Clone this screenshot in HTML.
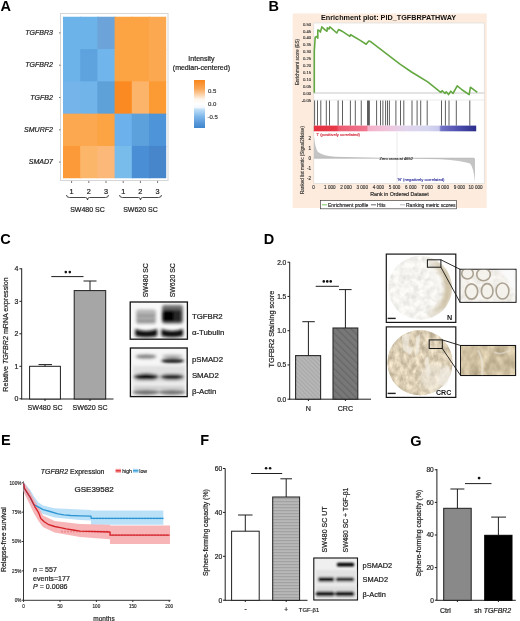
<!DOCTYPE html>
<html><head><meta charset="utf-8"><style>
html,body{margin:0;padding:0;background:#fff;width:520px;height:621px;overflow:hidden}
svg{display:block;font-family:"Liberation Sans", sans-serif;filter:blur(0.35px);}
</style></head><body>
<svg width="520" height="621" viewBox="0 0 520 621">
<defs>
<linearGradient id="cbar" x1="0" y1="0" x2="0" y2="1">
 <stop offset="0" stop-color="#f8861a"/>
 <stop offset="0.18" stop-color="#faa656"/>
 <stop offset="0.32" stop-color="#fcd8b4"/>
 <stop offset="0.4" stop-color="#fff6ee"/>
 <stop offset="0.5" stop-color="#ffffff"/>
 <stop offset="0.575" stop-color="#f2f8fe"/>
 <stop offset="0.61" stop-color="#c2e0f8"/>
 <stop offset="0.76" stop-color="#7eb8ea"/>
 <stop offset="0.9" stop-color="#5796d8"/>
 <stop offset="1" stop-color="#3f86cc"/>
</linearGradient>
<linearGradient id="gsbar" x1="0" y1="0" x2="1" y2="0">
 <stop offset="0" stop-color="#e62e3e"/>
 <stop offset="0.14" stop-color="#e83a4a"/>
 <stop offset="0.155" stop-color="#ec5c70"/>
 <stop offset="0.325" stop-color="#f07690"/>
 <stop offset="0.335" stop-color="#f4b0c8"/>
 <stop offset="0.45" stop-color="#f0c4dc"/>
 <stop offset="0.56" stop-color="#e2d4ec"/>
 <stop offset="0.7" stop-color="#d6d6f0"/>
 <stop offset="0.772" stop-color="#c8c8ec"/>
 <stop offset="0.782" stop-color="#7474c8"/>
 <stop offset="0.88" stop-color="#5252b2"/>
 <stop offset="1" stop-color="#2c2c8a"/>
</linearGradient>
<pattern id="hatchN" width="3" height="3" patternUnits="userSpaceOnUse" patternTransform="rotate(-45)">
 <rect width="3" height="3" fill="#b6b6b6"/>
 <rect width="1" height="3" fill="#a8a8a8"/>
</pattern>
<pattern id="hatchC" width="5" height="5" patternUnits="userSpaceOnUse" patternTransform="rotate(-45)">
 <rect width="5" height="5" fill="#787878"/>
 <rect width="1.2" height="5" fill="#666"/>
</pattern>
<pattern id="hlines" width="4" height="3" patternUnits="userSpaceOnUse">
 <rect width="4" height="3" fill="#b8b8b8"/>
 <rect width="4" height="1.2" fill="#a2a2a2"/>
</pattern>
<filter id="bl1" x="-50%" y="-50%" width="200%" height="200%"><feGaussianBlur stdDeviation="1.2"/></filter>
<filter id="bl15" x="-50%" y="-50%" width="200%" height="200%"><feGaussianBlur stdDeviation="1.6"/></filter>
<filter id="bl2" x="-50%" y="-50%" width="200%" height="200%"><feGaussianBlur stdDeviation="2"/></filter>
<filter id="bl05" x="-50%" y="-50%" width="200%" height="200%"><feGaussianBlur stdDeviation="0.6"/></filter>
<clipPath id="cN"><circle cx="420.25" cy="287.9" r="31.9"/></clipPath>
<clipPath id="cC"><circle cx="420" cy="362.7" r="32.5"/></clipPath>
<linearGradient id="gR" x1="0" y1="0" x2="1" y2="0"><stop offset="0" stop-color="#000"/><stop offset="0.55" stop-color="#000"/><stop offset="0.85" stop-color="#fff"/><stop offset="1" stop-color="#fff"/></linearGradient>
<mask id="mR" maskUnits="userSpaceOnUse" x="386" y="254" width="70" height="70"><rect x="386" y="254" width="70" height="70" fill="url(#gR)"/></mask>
<clipPath id="zN"><rect x="460.5" y="269.8" width="55" height="32"/></clipPath>
<filter id="texN" x="0" y="0" width="100%" height="100%" color-interpolation-filters="sRGB"><feTurbulence type="fractalNoise" baseFrequency="0.16" numOctaves="3" seed="4"/><feColorMatrix type="matrix" values="0.26 0 0 0 0.83  0.26 0 0 0 0.825  0.26 0 0 0 0.81  0 0 0 0 1"/></filter>
<filter id="texC" x="0" y="0" width="100%" height="100%" color-interpolation-filters="sRGB"><feTurbulence type="fractalNoise" baseFrequency="0.2 0.13" numOctaves="3" seed="7"/><feColorMatrix type="matrix" values="0.42 0 0 0 0.65  0.42 0 0 0 0.60  0.42 0 0 0 0.50  0 0 0 0 1"/></filter>
<filter id="texZ" x="0" y="0" width="100%" height="100%" color-interpolation-filters="sRGB"><feTurbulence type="fractalNoise" baseFrequency="0.1 0.07" numOctaves="3" seed="11"/><feColorMatrix type="matrix" values="0.4 0 0 0 0.61  0.4 0 0 0 0.55  0.4 0 0 0 0.43  0 0 0 0 1"/></filter>
</defs>
<text x="0.5" y="10.8" font-size="14.5" text-anchor="start" font-weight="bold" font-style="normal" fill="#000" >A</text>
<rect x="60.5" y="13.5" width="107.5" height="167" fill="#fff" stroke="#d6d6d6" stroke-width="1" />
<rect x="63.0" y="16.75" width="18.4" height="33.5" fill="#6cb3ea" stroke="none" stroke-width="1" />
<rect x="80.2" y="16.75" width="18.4" height="33.5" fill="#6cb3ea" stroke="none" stroke-width="1" />
<rect x="97.4" y="16.75" width="18.4" height="33.5" fill="#6ca3d8" stroke="none" stroke-width="1" />
<rect x="114.6" y="16.75" width="18.4" height="33.5" fill="#fca444" stroke="none" stroke-width="1" />
<rect x="131.8" y="16.75" width="18.4" height="33.5" fill="#fca444" stroke="none" stroke-width="1" />
<rect x="149.0" y="16.75" width="17.2" height="33.5" fill="#fca850" stroke="none" stroke-width="1" />
<rect x="63.0" y="49.05" width="18.4" height="33.5" fill="#6cb3ea" stroke="none" stroke-width="1" />
<rect x="80.2" y="49.05" width="18.4" height="33.5" fill="#5ea3de" stroke="none" stroke-width="1" />
<rect x="97.4" y="49.05" width="18.4" height="33.5" fill="#70b6ec" stroke="none" stroke-width="1" />
<rect x="114.6" y="49.05" width="18.4" height="33.5" fill="#fca444" stroke="none" stroke-width="1" />
<rect x="131.8" y="49.05" width="18.4" height="33.5" fill="#fca444" stroke="none" stroke-width="1" />
<rect x="149.0" y="49.05" width="17.2" height="33.5" fill="#fca850" stroke="none" stroke-width="1" />
<rect x="63.0" y="81.35" width="18.4" height="33.5" fill="#74b4ea" stroke="none" stroke-width="1" />
<rect x="80.2" y="81.35" width="18.4" height="33.5" fill="#70b4ea" stroke="none" stroke-width="1" />
<rect x="97.4" y="81.35" width="18.4" height="33.5" fill="#5ea0d8" stroke="none" stroke-width="1" />
<rect x="114.6" y="81.35" width="18.4" height="33.5" fill="#fc8a22" stroke="none" stroke-width="1" />
<rect x="131.8" y="81.35" width="18.4" height="33.5" fill="#fcb46a" stroke="none" stroke-width="1" />
<rect x="149.0" y="81.35" width="17.2" height="33.5" fill="#fc9a34" stroke="none" stroke-width="1" />
<rect x="63.0" y="113.65" width="18.4" height="33.5" fill="#fca850" stroke="none" stroke-width="1" />
<rect x="80.2" y="113.65" width="18.4" height="33.5" fill="#fca850" stroke="none" stroke-width="1" />
<rect x="97.4" y="113.65" width="18.4" height="33.5" fill="#fca444" stroke="none" stroke-width="1" />
<rect x="114.6" y="113.65" width="18.4" height="33.5" fill="#6cb0ec" stroke="none" stroke-width="1" />
<rect x="131.8" y="113.65" width="18.4" height="33.5" fill="#5ca0dc" stroke="none" stroke-width="1" />
<rect x="149.0" y="113.65" width="17.2" height="33.5" fill="#4e94d8" stroke="none" stroke-width="1" />
<rect x="63.0" y="145.95" width="18.4" height="32.3" fill="#fc9a3a" stroke="none" stroke-width="1" />
<rect x="80.2" y="145.95" width="18.4" height="32.3" fill="#fcb66a" stroke="none" stroke-width="1" />
<rect x="97.4" y="145.95" width="18.4" height="32.3" fill="#fcb878" stroke="none" stroke-width="1" />
<rect x="114.6" y="145.95" width="18.4" height="32.3" fill="#78bcec" stroke="none" stroke-width="1" />
<rect x="131.8" y="145.95" width="18.4" height="32.3" fill="#4a8ed6" stroke="none" stroke-width="1" />
<rect x="149.0" y="145.95" width="17.2" height="32.3" fill="#4886cc" stroke="none" stroke-width="1" />
<text x="52.9" y="35.0" font-size="7.0" text-anchor="end" font-weight="normal" font-style="italic" fill="#222" stroke="#222" stroke-width="0.21" >TGFBR3</text>
<line x1="59" y1="32.9" x2="60.5" y2="32.9" stroke="#555" stroke-width="0.8" />
<text x="52.9" y="67.3" font-size="7.0" text-anchor="end" font-weight="normal" font-style="italic" fill="#222" stroke="#222" stroke-width="0.21" >TGFBR2</text>
<line x1="59" y1="65.2" x2="60.5" y2="65.2" stroke="#555" stroke-width="0.8" />
<text x="52.9" y="99.6" font-size="7.0" text-anchor="end" font-weight="normal" font-style="italic" fill="#222" stroke="#222" stroke-width="0.21" >TGFB2</text>
<line x1="59" y1="97.5" x2="60.5" y2="97.5" stroke="#555" stroke-width="0.8" />
<text x="52.9" y="131.9" font-size="7.0" text-anchor="end" font-weight="normal" font-style="italic" fill="#222" stroke="#222" stroke-width="0.21" >SMURF2</text>
<line x1="59" y1="129.8" x2="60.5" y2="129.8" stroke="#555" stroke-width="0.8" />
<text x="52.9" y="164.2" font-size="7.0" text-anchor="end" font-weight="normal" font-style="italic" fill="#222" stroke="#222" stroke-width="0.21" >SMAD7</text>
<line x1="59" y1="162.1" x2="60.5" y2="162.1" stroke="#555" stroke-width="0.8" />
<line x1="71.6" y1="181" x2="71.6" y2="183" stroke="#555" stroke-width="0.8" />
<text x="71.6" y="193.8" font-size="7.3" text-anchor="middle" font-weight="normal" font-style="normal" fill="#222" stroke="#222" stroke-width="0.219" >1</text>
<line x1="88.8" y1="181" x2="88.8" y2="183" stroke="#555" stroke-width="0.8" />
<text x="88.8" y="193.8" font-size="7.3" text-anchor="middle" font-weight="normal" font-style="normal" fill="#222" stroke="#222" stroke-width="0.219" >2</text>
<line x1="106.0" y1="181" x2="106.0" y2="183" stroke="#555" stroke-width="0.8" />
<text x="106.0" y="193.8" font-size="7.3" text-anchor="middle" font-weight="normal" font-style="normal" fill="#222" stroke="#222" stroke-width="0.219" >3</text>
<line x1="123.2" y1="181" x2="123.2" y2="183" stroke="#555" stroke-width="0.8" />
<text x="123.2" y="193.8" font-size="7.3" text-anchor="middle" font-weight="normal" font-style="normal" fill="#222" stroke="#222" stroke-width="0.219" >1</text>
<line x1="140.4" y1="181" x2="140.4" y2="183" stroke="#555" stroke-width="0.8" />
<text x="140.4" y="193.8" font-size="7.3" text-anchor="middle" font-weight="normal" font-style="normal" fill="#222" stroke="#222" stroke-width="0.219" >2</text>
<line x1="157.6" y1="181" x2="157.6" y2="183" stroke="#555" stroke-width="0.8" />
<text x="157.6" y="193.8" font-size="7.3" text-anchor="middle" font-weight="normal" font-style="normal" fill="#222" stroke="#222" stroke-width="0.219" >3</text>
<path d="M66.5 195 Q66.5 197.5 69.5 197.5 L85.5 197.5 Q87.5 197.5 87.5 200 Q87.5 197.5 89.5 197.5 L105.5 197.5 Q108.5 197.5 108.5 195" fill="none" stroke="#333" stroke-width="0.9"/>
<text x="87.5" y="212.2" font-size="7" text-anchor="middle" font-weight="normal" font-style="normal" fill="#222" stroke="#222" stroke-width="0.21" >SW480 SC</text>
<path d="M119.5 195 Q119.5 197.5 122.5 197.5 L138.5 197.5 Q140.5 197.5 140.5 200 Q140.5 197.5 142.5 197.5 L158.5 197.5 Q161.5 197.5 161.5 195" fill="none" stroke="#333" stroke-width="0.9"/>
<text x="140.5" y="212.2" font-size="7" text-anchor="middle" font-weight="normal" font-style="normal" fill="#222" stroke="#222" stroke-width="0.21" >SW620 SC</text>
<text x="201.4" y="60.5" font-size="7" text-anchor="middle" font-weight="normal" font-style="normal" fill="#222" stroke="#222" stroke-width="0.21" >Intensity</text>
<text x="201.4" y="70" font-size="7" text-anchor="middle" font-weight="normal" font-style="normal" fill="#222" stroke="#222" stroke-width="0.21" >(median-centered)</text>
<rect x="194" y="80" width="11" height="48" fill="url(#cbar)" stroke="none" stroke-width="1" />
<text x="208" y="92.8" font-size="6" text-anchor="start" font-weight="normal" font-style="normal" fill="#333" stroke="#333" stroke-width="0.18" >0.5</text>
<text x="208" y="105.6" font-size="6" text-anchor="start" font-weight="normal" font-style="normal" fill="#333" stroke="#333" stroke-width="0.18" >0.0</text>
<text x="207.5" y="118.8" font-size="6" text-anchor="start" font-weight="normal" font-style="normal" fill="#333" stroke="#333" stroke-width="0.18" >-0.5</text>
<text x="268.5" y="10.8" font-size="14.5" text-anchor="start" font-weight="bold" font-style="normal" fill="#000" >B</text>
<rect x="292.7" y="13.5" width="194" height="194.5" fill="#fdecdd" stroke="none" stroke-width="1" />
<text x="321" y="19.5" font-size="7.25" text-anchor="start" font-weight="bold" font-style="normal" fill="#111" >Enrichment plot: PID_TGFBRPATHWAY</text>
<rect x="313.8" y="23" width="170.4" height="160.3" fill="#fff" stroke="#d8d8d8" stroke-width="0.6" />
<text x="311.2" y="25.6" font-size="4.2" text-anchor="end" font-weight="normal" font-style="normal" fill="#333" stroke="#333" stroke-width="0.126" >0.50</text>
<text x="311.2" y="32.5" font-size="4.2" text-anchor="end" font-weight="normal" font-style="normal" fill="#333" stroke="#333" stroke-width="0.126" >0.45</text>
<text x="311.2" y="39.4" font-size="4.2" text-anchor="end" font-weight="normal" font-style="normal" fill="#333" stroke="#333" stroke-width="0.126" >0.40</text>
<text x="311.2" y="46.3" font-size="4.2" text-anchor="end" font-weight="normal" font-style="normal" fill="#333" stroke="#333" stroke-width="0.126" >0.35</text>
<text x="311.2" y="53.2" font-size="4.2" text-anchor="end" font-weight="normal" font-style="normal" fill="#333" stroke="#333" stroke-width="0.126" >0.30</text>
<text x="311.2" y="60.1" font-size="4.2" text-anchor="end" font-weight="normal" font-style="normal" fill="#333" stroke="#333" stroke-width="0.126" >0.25</text>
<text x="311.2" y="67.0" font-size="4.2" text-anchor="end" font-weight="normal" font-style="normal" fill="#333" stroke="#333" stroke-width="0.126" >0.20</text>
<text x="311.2" y="73.9" font-size="4.2" text-anchor="end" font-weight="normal" font-style="normal" fill="#333" stroke="#333" stroke-width="0.126" >0.15</text>
<text x="311.2" y="80.8" font-size="4.2" text-anchor="end" font-weight="normal" font-style="normal" fill="#333" stroke="#333" stroke-width="0.126" >0.10</text>
<text x="311.2" y="87.7" font-size="4.2" text-anchor="end" font-weight="normal" font-style="normal" fill="#333" stroke="#333" stroke-width="0.126" >0.05</text>
<text x="311.2" y="94.6" font-size="4.2" text-anchor="end" font-weight="normal" font-style="normal" fill="#333" stroke="#333" stroke-width="0.126" >0.00</text>
<text x="311.2" y="101.5" font-size="4.2" text-anchor="end" font-weight="normal" font-style="normal" fill="#333" stroke="#333" stroke-width="0.126" >-0.05</text>
<text x="0" y="0" font-size="4.6" text-anchor="middle" font-weight="normal" font-style="normal" fill="#333" stroke="#333" stroke-width="0.138" transform="translate(298.6 62) rotate(-90)">Enrichment score (ES)</text>
<line x1="313.8" y1="93" x2="484.2" y2="93" stroke="#c8c8c8" stroke-width="1" />
<line x1="313.8" y1="100" x2="484.2" y2="100" stroke="#ddd" stroke-width="0.6" />
<path d="M314.3 92.7 L314.3 51.2 L315.2 37.3 L316.9 36.4 L317.8 38.2 L317.8 30 L319.5 30.7 L320.4 32.1 L321.8 26.9 L325.6 30.4 L327 31.2 L327.3 27.8 L329 29 L329.9 26.9 L336.8 33 L338.6 29.5 L342 31.2 L349.8 36.4 L350.7 34.7 L360.2 40.4 L366.2 44.2 L368.8 41.1 L370.6 41.6 L400 64.1 L411.5 72 L418.5 76.2 L427.7 81.9 L439.2 91.2 L441 92.3 L442.2 90.7 L445 93.5 L446.2 91.8 L448.5 94.6 L450.8 91.2 L453 93.5 L457.2 85.8 L462.3 90 L469.2 94.6 L470.4 87.2 L477.3 92.3" fill="none" stroke="#64a842" stroke-width="1.6" stroke-linejoin="round"/>
<line x1="314.6" y1="100.5" x2="314.6" y2="125.6" stroke="#2a2a2a" stroke-width="0.75" />
<line x1="317.5" y1="100.5" x2="317.5" y2="125.6" stroke="#2a2a2a" stroke-width="0.75" />
<line x1="320.8" y1="100.5" x2="320.8" y2="125.6" stroke="#2a2a2a" stroke-width="0.75" />
<line x1="326.3" y1="100.5" x2="326.3" y2="125.6" stroke="#2a2a2a" stroke-width="0.75" />
<line x1="329.5" y1="100.5" x2="329.5" y2="125.6" stroke="#2a2a2a" stroke-width="0.75" />
<line x1="338.1" y1="100.5" x2="338.1" y2="125.6" stroke="#2a2a2a" stroke-width="0.75" />
<line x1="342.5" y1="100.5" x2="342.5" y2="125.6" stroke="#2a2a2a" stroke-width="0.75" />
<line x1="350.4" y1="100.5" x2="350.4" y2="125.6" stroke="#2a2a2a" stroke-width="0.75" />
<line x1="355.3" y1="100.5" x2="355.3" y2="125.6" stroke="#2a2a2a" stroke-width="0.75" />
<line x1="361.25" y1="100.5" x2="361.25" y2="125.6" stroke="#2a2a2a" stroke-width="0.75" />
<line x1="367.5" y1="100.5" x2="367.5" y2="125.6" stroke="#2a2a2a" stroke-width="0.75" />
<line x1="368.5" y1="100.5" x2="368.5" y2="125.6" stroke="#2a2a2a" stroke-width="0.75" />
<line x1="369.4" y1="100.5" x2="369.4" y2="125.6" stroke="#2a2a2a" stroke-width="0.75" />
<line x1="376.6" y1="100.5" x2="376.6" y2="125.6" stroke="#2a2a2a" stroke-width="0.75" />
<line x1="380.5" y1="100.5" x2="380.5" y2="125.6" stroke="#2a2a2a" stroke-width="0.75" />
<line x1="382.9" y1="100.5" x2="382.9" y2="125.6" stroke="#2a2a2a" stroke-width="0.75" />
<line x1="385.6" y1="100.5" x2="385.6" y2="125.6" stroke="#2a2a2a" stroke-width="0.75" />
<line x1="387.5" y1="100.5" x2="387.5" y2="125.6" stroke="#2a2a2a" stroke-width="0.75" />
<line x1="389.4" y1="100.5" x2="389.4" y2="125.6" stroke="#2a2a2a" stroke-width="0.75" />
<line x1="395.9" y1="100.5" x2="395.9" y2="125.6" stroke="#2a2a2a" stroke-width="0.75" />
<line x1="400.5" y1="100.5" x2="400.5" y2="125.6" stroke="#2a2a2a" stroke-width="0.75" />
<line x1="403.8" y1="100.5" x2="403.8" y2="125.6" stroke="#2a2a2a" stroke-width="0.75" />
<line x1="412.0" y1="100.5" x2="412.0" y2="125.6" stroke="#2a2a2a" stroke-width="0.75" />
<line x1="417.1" y1="100.5" x2="417.1" y2="125.6" stroke="#2a2a2a" stroke-width="0.75" />
<line x1="420.7" y1="100.5" x2="420.7" y2="125.6" stroke="#2a2a2a" stroke-width="0.75" />
<line x1="427.2" y1="100.5" x2="427.2" y2="125.6" stroke="#2a2a2a" stroke-width="0.75" />
<line x1="441.5" y1="100.5" x2="441.5" y2="125.6" stroke="#2a2a2a" stroke-width="0.75" />
<line x1="445.4" y1="100.5" x2="445.4" y2="125.6" stroke="#2a2a2a" stroke-width="0.75" />
<line x1="449.0" y1="100.5" x2="449.0" y2="125.6" stroke="#2a2a2a" stroke-width="0.75" />
<line x1="456.3" y1="100.5" x2="456.3" y2="125.6" stroke="#2a2a2a" stroke-width="0.75" />
<line x1="469.8" y1="100.5" x2="469.8" y2="125.6" stroke="#2a2a2a" stroke-width="0.75" />
<rect x="313.8" y="125.6" width="162.4" height="5.7" fill="url(#gsbar)" stroke="none" stroke-width="1" />
<text x="316.5" y="135.6" font-size="4.2" text-anchor="start" font-weight="normal" font-style="normal" fill="#d02030" stroke="#d02030" stroke-width="0.126" >'l' (positively correlated)</text>
<text x="311" y="139.7" font-size="4.6" text-anchor="end" font-weight="normal" font-style="normal" fill="#333" stroke="#333" stroke-width="0.138" >2</text>
<text x="311" y="149.8" font-size="4.6" text-anchor="end" font-weight="normal" font-style="normal" fill="#333" stroke="#333" stroke-width="0.138" >1</text>
<text x="311" y="159.9" font-size="4.6" text-anchor="end" font-weight="normal" font-style="normal" fill="#333" stroke="#333" stroke-width="0.138" >0</text>
<text x="311" y="170.0" font-size="4.6" text-anchor="end" font-weight="normal" font-style="normal" fill="#333" stroke="#333" stroke-width="0.138" >-1</text>
<text x="311" y="180.1" font-size="4.6" text-anchor="end" font-weight="normal" font-style="normal" fill="#333" stroke="#333" stroke-width="0.138" >-2</text>
<text x="0" y="0" font-size="4.6" text-anchor="middle" font-weight="normal" font-style="normal" fill="#333" stroke="#333" stroke-width="0.138" transform="translate(303.5 160) rotate(-90)">Ranked list metric (Signal2Noise)</text>
<path d="M314 158.2 L314 136 Q315 148 318 152 Q322 155.5 335 156.8 L390 158.2 L440 159.2 Q462 160.5 470 163.5 Q473.5 167 475 182 L475 158.2 Z" fill="#c4c4c4"/>
<line x1="314" y1="158.2" x2="474" y2="158.2" stroke="#999" stroke-width="0.5" />
<line x1="397" y1="132" x2="397" y2="183" stroke="#d4d4d4" stroke-width="0.5" />
<text x="379.5" y="159.6" font-size="4" text-anchor="start" font-weight="normal" font-style="normal" fill="#222" stroke="#222" stroke-width="0.12" >Zero cross at 4652</text>
<text x="397.5" y="181.4" font-size="4.2" text-anchor="start" font-weight="normal" font-style="normal" fill="#3030a0" stroke="#3030a0" stroke-width="0.126" >'B' (negatively correlated)</text>
<text x="313.6" y="189.2" font-size="4.6" text-anchor="middle" font-weight="normal" font-style="normal" fill="#333" stroke="#333" stroke-width="0.138" >0</text>
<text x="329.8" y="189.2" font-size="4.6" text-anchor="middle" font-weight="normal" font-style="normal" fill="#333" stroke="#333" stroke-width="0.138" >1 000</text>
<text x="346.0" y="189.2" font-size="4.6" text-anchor="middle" font-weight="normal" font-style="normal" fill="#333" stroke="#333" stroke-width="0.138" >2 000</text>
<text x="362.2" y="189.2" font-size="4.6" text-anchor="middle" font-weight="normal" font-style="normal" fill="#333" stroke="#333" stroke-width="0.138" >3 000</text>
<text x="378.4" y="189.2" font-size="4.6" text-anchor="middle" font-weight="normal" font-style="normal" fill="#333" stroke="#333" stroke-width="0.138" >4 000</text>
<text x="394.6" y="189.2" font-size="4.6" text-anchor="middle" font-weight="normal" font-style="normal" fill="#333" stroke="#333" stroke-width="0.138" >5 000</text>
<text x="410.8" y="189.2" font-size="4.6" text-anchor="middle" font-weight="normal" font-style="normal" fill="#333" stroke="#333" stroke-width="0.138" >6 000</text>
<text x="427.0" y="189.2" font-size="4.6" text-anchor="middle" font-weight="normal" font-style="normal" fill="#333" stroke="#333" stroke-width="0.138" >7 000</text>
<text x="443.2" y="189.2" font-size="4.6" text-anchor="middle" font-weight="normal" font-style="normal" fill="#333" stroke="#333" stroke-width="0.138" >8 000</text>
<text x="459.4" y="189.2" font-size="4.6" text-anchor="middle" font-weight="normal" font-style="normal" fill="#333" stroke="#333" stroke-width="0.138" >9 000</text>
<text x="475.6" y="189.2" font-size="4.6" text-anchor="middle" font-weight="normal" font-style="normal" fill="#333" stroke="#333" stroke-width="0.138" >10 000</text>
<text x="399.5" y="195.6" font-size="5.3" text-anchor="middle" font-weight="normal" font-style="normal" fill="#222" stroke="#222" stroke-width="0.159" >Rank in Ordered Dataset</text>
<rect x="320.5" y="200.5" width="136" height="8.3" fill="#fff" stroke="#444" stroke-width="0.7" />
<line x1="322" y1="204.8" x2="327" y2="204.8" stroke="#5cb83c" stroke-width="0.8" />
<text x="328" y="206.6" font-size="5" text-anchor="start" font-weight="normal" font-style="normal" fill="#222" stroke="#222" stroke-width="0.15" >Enrichment profile</text>
<line x1="371" y1="204.8" x2="376" y2="204.8" stroke="#444" stroke-width="0.8" />
<text x="377" y="206.6" font-size="5" text-anchor="start" font-weight="normal" font-style="normal" fill="#222" stroke="#222" stroke-width="0.15" >Hits</text>
<line x1="400" y1="204.8" x2="405" y2="204.8" stroke="#aaa" stroke-width="0.8" />
<text x="406" y="206.6" font-size="5" text-anchor="start" font-weight="normal" font-style="normal" fill="#222" stroke="#222" stroke-width="0.15" >Ranking metric scores</text>
<text x="0.3" y="244" font-size="14.5" text-anchor="start" font-weight="bold" font-style="normal" fill="#000" >C</text>
<line x1="21.7" y1="268.3" x2="21.7" y2="399.3" stroke="#1e1e1e" stroke-width="1" />
<line x1="21.2" y1="399" x2="113.5" y2="399" stroke="#1e1e1e" stroke-width="1" />
<line x1="19.4" y1="398.8" x2="21.7" y2="398.8" stroke="#1e1e1e" stroke-width="1" />
<text x="18.3" y="401.3" font-size="7" text-anchor="end" font-weight="normal" font-style="normal" fill="#1e1e1e" stroke="#1e1e1e" stroke-width="0.21" >0</text>
<line x1="19.4" y1="366.3" x2="21.7" y2="366.3" stroke="#1e1e1e" stroke-width="1" />
<text x="18.3" y="368.8" font-size="7" text-anchor="end" font-weight="normal" font-style="normal" fill="#1e1e1e" stroke="#1e1e1e" stroke-width="0.21" >1</text>
<line x1="19.4" y1="333.8" x2="21.7" y2="333.8" stroke="#1e1e1e" stroke-width="1" />
<text x="18.3" y="336.3" font-size="7" text-anchor="end" font-weight="normal" font-style="normal" fill="#1e1e1e" stroke="#1e1e1e" stroke-width="0.21" >2</text>
<line x1="19.4" y1="301.3" x2="21.7" y2="301.3" stroke="#1e1e1e" stroke-width="1" />
<text x="18.3" y="303.8" font-size="7" text-anchor="end" font-weight="normal" font-style="normal" fill="#1e1e1e" stroke="#1e1e1e" stroke-width="0.21" >3</text>
<line x1="19.4" y1="268.8" x2="21.7" y2="268.8" stroke="#1e1e1e" stroke-width="1" />
<text x="18.3" y="271.3" font-size="7" text-anchor="end" font-weight="normal" font-style="normal" fill="#1e1e1e" stroke="#1e1e1e" stroke-width="0.21" >4</text>
<text x="0" y="0" font-size="7.1" text-anchor="middle" font-weight="normal" font-style="normal" fill="#1e1e1e" stroke="#1e1e1e" stroke-width="0.213" transform="translate(8.2 334.5) rotate(-90)">Relative <tspan font-style="italic">TGFBR2</tspan> mRNA expression</text>
<rect x="29.6" y="366.3" width="30.8" height="32.7" fill="#fff" stroke="#1e1e1e" stroke-width="1" />
<line x1="45" y1="364.6" x2="45" y2="366.3" stroke="#1e1e1e" stroke-width="1" />
<line x1="38.5" y1="364.6" x2="52" y2="364.6" stroke="#1e1e1e" stroke-width="1" />
<rect x="74.2" y="290.6" width="31.5" height="108.4" fill="#a6a6a6" stroke="#1e1e1e" stroke-width="1" />
<line x1="90" y1="281" x2="90" y2="290.6" stroke="#1e1e1e" stroke-width="1" />
<line x1="83.5" y1="281" x2="96.5" y2="281" stroke="#1e1e1e" stroke-width="1" />
<line x1="51.3" y1="276.6" x2="83.5" y2="276.6" stroke="#1e1e1e" stroke-width="1" />
<circle cx="65.8" cy="272.1" r="1.3" fill="#111"/>
<circle cx="69.8" cy="272.1" r="1.3" fill="#111"/>
<line x1="45" y1="399" x2="45" y2="401" stroke="#1e1e1e" stroke-width="1" />
<line x1="90" y1="399" x2="90" y2="401" stroke="#1e1e1e" stroke-width="1" />
<text x="45" y="410" font-size="7.1" text-anchor="middle" font-weight="normal" font-style="normal" fill="#1e1e1e" stroke="#1e1e1e" stroke-width="0.213" >SW480 SC</text>
<text x="90" y="410" font-size="7.1" text-anchor="middle" font-weight="normal" font-style="normal" fill="#1e1e1e" stroke="#1e1e1e" stroke-width="0.213" >SW620 SC</text>
<text x="0" y="0" font-size="6.9" text-anchor="start" font-weight="normal" font-style="normal" fill="#1e1e1e" stroke="#1e1e1e" stroke-width="0.207" transform="translate(148 297.3) rotate(-90)">SW480 SC</text>
<text x="0" y="0" font-size="6.9" text-anchor="start" font-weight="normal" font-style="normal" fill="#1e1e1e" stroke="#1e1e1e" stroke-width="0.207" transform="translate(174.9 297.3) rotate(-90)">SW620 SC</text>
<rect x="130.2" y="302" width="57.2" height="37.2" fill="#f8f8f8" stroke="#111" stroke-width="1.3" />
<rect x="130.4" y="348" width="56.8" height="48.6" fill="#f6f6f6" stroke="#111" stroke-width="1.3" />
<g filter="url(#bl15)">
<rect x="136" y="309.5" width="20" height="14.5" rx="2.5" fill="#b6b6b6"/>
<rect x="137" y="314.6" width="18" height="2.4" fill="#8e8e8e"/>
<rect x="137" y="319.6" width="18" height="2.6" fill="#8a8a8a"/>
<rect x="162" y="305" width="21" height="18.5" rx="2.5" fill="#6e6e6e"/>
<rect x="162.5" y="309.8" width="19" height="12.5" rx="2" fill="#262626"/>
<rect x="162.5" y="310.5" width="11" height="11.5" rx="2" fill="#060606"/>
<path d="M135.2 329 Q146 333 157.2 329 L157.2 336 Q146 338.5 135.2 336 Z" fill="#0a0a0a"/>
<path d="M161.4 329 Q172 333 183 329 L183 336 Q172 338.5 161.4 336 Z" fill="#0e0e0e"/>
<ellipse cx="146" cy="356.5" rx="10.5" ry="2" fill="#7c7c7c"/>
<ellipse cx="172.5" cy="356.3" rx="10.5" ry="1.8" fill="#b0b0b0"/>
<ellipse cx="172.7" cy="360.7" rx="11.5" ry="2.4" fill="#141414"/>
<rect x="133" y="366" width="52" height="17" fill="#e0e0e0"/>
<ellipse cx="146.2" cy="376.8" rx="12.6" ry="3.3" fill="#060606"/>
<ellipse cx="172.1" cy="376.9" rx="12" ry="2.9" fill="#141414"/>
<rect x="133.5" y="385.5" width="51" height="4.5" fill="#d0d0d0"/>
<ellipse cx="146" cy="392.3" rx="13.5" ry="2.4" fill="#686868"/>
<ellipse cx="172" cy="392.3" rx="13.5" ry="2.4" fill="#6c6c6c"/>
</g>
<text x="191.9" y="319.1" font-size="7.8" text-anchor="start" font-weight="normal" font-style="normal" fill="#1e1e1e" stroke="#1e1e1e" stroke-width="0.234" >TGFBR2</text>
<text x="191.9" y="335.1" font-size="7.8" text-anchor="start" font-weight="normal" font-style="normal" fill="#1e1e1e" stroke="#1e1e1e" stroke-width="0.234" >α-Tubulin</text>
<text x="191.9" y="361.6" font-size="7.8" text-anchor="start" font-weight="normal" font-style="normal" fill="#1e1e1e" stroke="#1e1e1e" stroke-width="0.234" >pSMAD2</text>
<text x="191.9" y="377.9" font-size="7.8" text-anchor="start" font-weight="normal" font-style="normal" fill="#1e1e1e" stroke="#1e1e1e" stroke-width="0.234" >SMAD2</text>
<text x="191.9" y="394" font-size="7.8" text-anchor="start" font-weight="normal" font-style="normal" fill="#1e1e1e" stroke="#1e1e1e" stroke-width="0.234" >β-Actin</text>
<text x="263.8" y="244.4" font-size="14.5" text-anchor="start" font-weight="bold" font-style="normal" fill="#000" >D</text>
<line x1="289.7" y1="262" x2="289.7" y2="399.5" stroke="#1e1e1e" stroke-width="1" />
<line x1="289.2" y1="399.2" x2="371" y2="399.2" stroke="#1e1e1e" stroke-width="1" />
<line x1="287.5" y1="399.2" x2="289.7" y2="399.2" stroke="#1e1e1e" stroke-width="1" />
<text x="286.3" y="401.6" font-size="6.6" text-anchor="end" font-weight="normal" font-style="normal" fill="#1e1e1e" stroke="#1e1e1e" stroke-width="0.198" >0.0</text>
<line x1="287.5" y1="364.95" x2="289.7" y2="364.95" stroke="#1e1e1e" stroke-width="1" />
<text x="286.3" y="367.35" font-size="6.6" text-anchor="end" font-weight="normal" font-style="normal" fill="#1e1e1e" stroke="#1e1e1e" stroke-width="0.198" >0.5</text>
<line x1="287.5" y1="330.7" x2="289.7" y2="330.7" stroke="#1e1e1e" stroke-width="1" />
<text x="286.3" y="333.1" font-size="6.6" text-anchor="end" font-weight="normal" font-style="normal" fill="#1e1e1e" stroke="#1e1e1e" stroke-width="0.198" >1.0</text>
<line x1="287.5" y1="296.45" x2="289.7" y2="296.45" stroke="#1e1e1e" stroke-width="1" />
<text x="286.3" y="298.85" font-size="6.6" text-anchor="end" font-weight="normal" font-style="normal" fill="#1e1e1e" stroke="#1e1e1e" stroke-width="0.198" >1.5</text>
<line x1="287.5" y1="262.2" x2="289.7" y2="262.2" stroke="#1e1e1e" stroke-width="1" />
<text x="286.3" y="264.6" font-size="6.6" text-anchor="end" font-weight="normal" font-style="normal" fill="#1e1e1e" stroke="#1e1e1e" stroke-width="0.198" >2.0</text>
<text x="0" y="0" font-size="7.25" text-anchor="middle" font-weight="normal" font-style="normal" fill="#1e1e1e" stroke="#1e1e1e" stroke-width="0.217" transform="translate(273.6 329.1) rotate(-90)">TGFBR2 Staining score</text>
<rect x="295.6" y="355.6" width="25" height="43.6" fill="url(#hatchN)" stroke="#2a2a2a" stroke-width="1.1" />
<line x1="308.4" y1="321.7" x2="308.4" y2="355.6" stroke="#1e1e1e" stroke-width="1" />
<line x1="302.3" y1="321.7" x2="314.8" y2="321.7" stroke="#1e1e1e" stroke-width="1" />
<rect x="333" y="328" width="24.8" height="71.2" fill="url(#hatchC)" stroke="#2a2a2a" stroke-width="1.1" />
<line x1="345.4" y1="289.6" x2="345.4" y2="328" stroke="#1e1e1e" stroke-width="1" />
<line x1="339" y1="289.6" x2="351.6" y2="289.6" stroke="#1e1e1e" stroke-width="1" />
<line x1="315.7" y1="286.3" x2="338.9" y2="286.3" stroke="#1e1e1e" stroke-width="1" />
<circle cx="323.8" cy="281.4" r="1.3" fill="#111"/>
<circle cx="327.25" cy="281.4" r="1.3" fill="#111"/>
<circle cx="330.7" cy="281.4" r="1.3" fill="#111"/>
<line x1="308.4" y1="399.2" x2="308.4" y2="401" stroke="#1e1e1e" stroke-width="1" />
<line x1="345.4" y1="399.2" x2="345.4" y2="401" stroke="#1e1e1e" stroke-width="1" />
<text x="308.4" y="410.6" font-size="7.1" text-anchor="middle" font-weight="normal" font-style="normal" fill="#1e1e1e" stroke="#1e1e1e" stroke-width="0.213" >N</text>
<text x="345.4" y="410.6" font-size="7.1" text-anchor="middle" font-weight="normal" font-style="normal" fill="#1e1e1e" stroke="#1e1e1e" stroke-width="0.213" >CRC</text>
<rect x="386.3" y="254.1" width="69.5" height="68.3" fill="#fff" stroke="#161616" stroke-width="1.2" />
<circle cx="420.25" cy="287.9" r="31.9" fill="#f4f2ee"/>
<g clip-path="url(#cN)"><rect x="388" y="256" width="65" height="66" filter="url(#texN)" opacity="0.75"/></g>
<circle cx="420.25" cy="287.9" r="28" fill="none" stroke="#c9bb9c" stroke-width="8" opacity="0.9" filter="url(#bl2)" clip-path="url(#cN)" mask="url(#mR)"/>
<rect x="427.4" y="259.8" width="13.5" height="7.4" fill="none" stroke="#161616" stroke-width="1" />
<line x1="440.9" y1="259.8" x2="460" y2="269.3" stroke="#161616" stroke-width="0.9" />
<line x1="440.9" y1="267.2" x2="460" y2="302.2" stroke="#161616" stroke-width="0.9" />
<rect x="460" y="269.3" width="56" height="33" fill="#efece5" stroke="#161616" stroke-width="1.1" />
<g clip-path="url(#zN)"><rect x="460.5" y="269.8" width="55" height="32" filter="url(#texN)" opacity="0.6"/></g>
<path d="M497 269.8 Q510 278 515.5 298 L515.5 269.8 Z" fill="#fafafa" filter="url(#bl1)" clip-path="url(#zN)"/>
<g fill="#f4f2ec" stroke="#a39a88" stroke-width="1.6" opacity="0.9" clip-path="url(#zN)" filter="url(#bl05)">
<ellipse cx="467.5" cy="273.5" rx="5.8" ry="5.5"/>
<ellipse cx="483.5" cy="274.5" rx="6.8" ry="6.2"/>
<ellipse cx="471.5" cy="291.5" rx="6.2" ry="7.6"/>
<ellipse cx="487.2" cy="291" rx="5.8" ry="7.4"/>
<ellipse cx="502.5" cy="291" rx="6.4" ry="8"/>
</g>
<text x="449.6" y="320.2" font-size="7.2" text-anchor="middle" font-weight="bold" font-style="normal" fill="#161616" >N</text>
<line x1="387.6" y1="318.4" x2="395.7" y2="318.4" stroke="#222" stroke-width="1.4" />
<rect x="386.3" y="326.9" width="69.5" height="70.5" fill="#fff" stroke="#161616" stroke-width="1.2" />
<circle cx="420" cy="362.7" r="32.5" fill="#cfbe9c"/>
<g clip-path="url(#cC)"><rect x="387" y="330" width="66" height="66" filter="url(#texC)"/></g>
<ellipse cx="436" cy="378" rx="16" ry="14" fill="#f4f0e8" opacity="0.45" filter="url(#bl2)" clip-path="url(#cC)"/>
<g filter="url(#bl05)" fill="#f2eee6" opacity="0.6">
<path d="M402 336 L410 333 L408 346 L414 348 L410 355 L403 350 Z"/>
<path d="M416 338 L420 334 L419 352 L415 356 Z"/>
<path d="M425 360 L428 356 L431 372 L427 378 Z"/>
<path d="M440 370 L448 366 L452 372 L446 386 L438 384 Z"/>
</g>
<rect x="429.2" y="339.9" width="13.1" height="8.6" fill="none" stroke="#161616" stroke-width="1" />
<line x1="442.3" y1="339.9" x2="460.6" y2="345.5" stroke="#161616" stroke-width="0.9" />
<line x1="442.3" y1="348.5" x2="460.6" y2="375.5" stroke="#161616" stroke-width="0.9" />
<rect x="460.6" y="345.5" width="55" height="30" fill="#d4c4a8" stroke="#161616" stroke-width="1.1" />
<rect x="461.2" y="346.1" width="53.8" height="28.8" filter="url(#texZ)"/>
<path d="M478 350 Q484 360 482 375" stroke="#ece6dc" stroke-width="2" fill="none" opacity="0.6" filter="url(#bl05)"/>
<path d="M494 352 Q500 356 510 350" stroke="#e8e2d6" stroke-width="1.6" fill="none" opacity="0.6" filter="url(#bl05)"/>
<text x="443.6" y="395.3" font-size="7.1" text-anchor="middle" font-weight="bold" font-style="normal" fill="#161616" >CRC</text>
<line x1="387.6" y1="393.4" x2="395.7" y2="393.4" stroke="#222" stroke-width="1.4" />
<text x="1" y="445" font-size="14.5" text-anchor="start" font-weight="bold" font-style="normal" fill="#000" >E</text>
<text x="40.8" y="473.8" font-size="6.95" text-anchor="start" font-weight="normal" font-style="normal" fill="#1e1e1e" stroke="#1e1e1e" stroke-width="0.208" ><tspan font-style="italic">TGFBR2</tspan> Expression</text>
<rect x="115.6" y="468.8" width="5.4" height="4" fill="#f4a0a4" stroke="none" stroke-width="1" />
<line x1="115.6" y1="470.8" x2="121" y2="470.8" stroke="#e02828" stroke-width="1.2" />
<text x="122.2" y="472.8" font-size="5.2" text-anchor="start" font-weight="normal" font-style="normal" fill="#1e1e1e" stroke="#1e1e1e" stroke-width="0.156" >high</text>
<rect x="133" y="468.8" width="5.4" height="4" fill="#a8d8f4" stroke="none" stroke-width="1" />
<line x1="133" y1="470.8" x2="138.4" y2="470.8" stroke="#2e96d2" stroke-width="1.2" />
<text x="139.3" y="472.8" font-size="5.2" text-anchor="start" font-weight="normal" font-style="normal" fill="#1e1e1e" stroke="#1e1e1e" stroke-width="0.156" >low</text>
<line x1="23.5" y1="481.5" x2="23.5" y2="600.6" stroke="#1e1e1e" stroke-width="0.9" />
<line x1="23.5" y1="600.3" x2="170.5" y2="600.3" stroke="#1e1e1e" stroke-width="0.9" />
<line x1="21.8" y1="600.2" x2="23.5" y2="600.2" stroke="#1e1e1e" stroke-width="0.9" />
<text x="21.3" y="601.9" font-size="4.6" text-anchor="end" font-weight="normal" font-style="normal" fill="#1e1e1e" stroke="#1e1e1e" stroke-width="0.138" >0%</text>
<line x1="21.8" y1="570.85" x2="23.5" y2="570.85" stroke="#1e1e1e" stroke-width="0.9" />
<text x="21.3" y="572.55" font-size="4.6" text-anchor="end" font-weight="normal" font-style="normal" fill="#1e1e1e" stroke="#1e1e1e" stroke-width="0.138" >25%</text>
<line x1="21.8" y1="541.5" x2="23.5" y2="541.5" stroke="#1e1e1e" stroke-width="0.9" />
<text x="21.3" y="543.2" font-size="4.6" text-anchor="end" font-weight="normal" font-style="normal" fill="#1e1e1e" stroke="#1e1e1e" stroke-width="0.138" >50%</text>
<line x1="21.8" y1="512.15" x2="23.5" y2="512.15" stroke="#1e1e1e" stroke-width="0.9" />
<text x="21.3" y="513.85" font-size="4.6" text-anchor="end" font-weight="normal" font-style="normal" fill="#1e1e1e" stroke="#1e1e1e" stroke-width="0.138" >75%</text>
<line x1="21.8" y1="482.8" x2="23.5" y2="482.8" stroke="#1e1e1e" stroke-width="0.9" />
<text x="21.3" y="484.5" font-size="4.6" text-anchor="end" font-weight="normal" font-style="normal" fill="#1e1e1e" stroke="#1e1e1e" stroke-width="0.138" >100%</text>
<line x1="23.6" y1="600.3" x2="23.6" y2="602" stroke="#1e1e1e" stroke-width="0.9" />
<text x="23.6" y="607.8" font-size="4.6" text-anchor="middle" font-weight="normal" font-style="normal" fill="#1e1e1e" stroke="#1e1e1e" stroke-width="0.138" >0</text>
<line x1="60.0" y1="600.3" x2="60.0" y2="602" stroke="#1e1e1e" stroke-width="0.9" />
<text x="60.0" y="607.8" font-size="4.6" text-anchor="middle" font-weight="normal" font-style="normal" fill="#1e1e1e" stroke="#1e1e1e" stroke-width="0.138" >50</text>
<line x1="96.4" y1="600.3" x2="96.4" y2="602" stroke="#1e1e1e" stroke-width="0.9" />
<text x="96.4" y="607.8" font-size="4.6" text-anchor="middle" font-weight="normal" font-style="normal" fill="#1e1e1e" stroke="#1e1e1e" stroke-width="0.138" >100</text>
<line x1="132.8" y1="600.3" x2="132.8" y2="602" stroke="#1e1e1e" stroke-width="0.9" />
<text x="132.8" y="607.8" font-size="4.6" text-anchor="middle" font-weight="normal" font-style="normal" fill="#1e1e1e" stroke="#1e1e1e" stroke-width="0.138" >150</text>
<line x1="169.2" y1="600.3" x2="169.2" y2="602" stroke="#1e1e1e" stroke-width="0.9" />
<text x="169.2" y="607.8" font-size="4.6" text-anchor="middle" font-weight="normal" font-style="normal" fill="#1e1e1e" stroke="#1e1e1e" stroke-width="0.138" >200</text>
<text x="104" y="620.5" font-size="6.5" text-anchor="middle" font-weight="normal" font-style="normal" fill="#1e1e1e" stroke="#1e1e1e" stroke-width="0.195" >months</text>
<text x="0" y="0" font-size="6.9" text-anchor="middle" font-weight="normal" font-style="normal" fill="#1e1e1e" stroke="#1e1e1e" stroke-width="0.207" transform="translate(6.2 539.6) rotate(-90)">Relapse-free survival</text>
<text x="94.1" y="492" font-size="8" text-anchor="middle" font-weight="normal" font-style="normal" fill="#1e1e1e" stroke="#1e1e1e" stroke-width="0.24" >GSE39582</text>
<text x="33" y="572" font-size="7.1" text-anchor="start" font-weight="normal" font-style="normal" fill="#1e1e1e" stroke="#1e1e1e" stroke-width="0.213" ><tspan font-style="italic">n</tspan> = 557</text>
<text x="33" y="580.5" font-size="7.1" text-anchor="start" font-weight="normal" font-style="normal" fill="#1e1e1e" stroke="#1e1e1e" stroke-width="0.213" >events=177</text>
<text x="33" y="588.6" font-size="7.1" text-anchor="start" font-weight="normal" font-style="normal" fill="#1e1e1e" stroke="#1e1e1e" stroke-width="0.213" ><tspan font-style="italic">P</tspan> = 0.0086</text>
<path d="M23.6 482 L30 489.5 L33.8 496 L38 502 L43 505.5 L54.6 508.3 L80 509.5 L91 510 L91 510.6 L163.3 510.6 L163.3 524.7 L91 524.7 L91 520.5 L80 520 L54.6 517.5 L43 514 L38 510.5 L33.8 508 L30 502 L23.6 491 Z" fill="#b4def8" opacity="0.9"/>
<path d="M23.6 482 L30 491.5 L33.8 499 L38.5 507 L43 515.5 L54.6 521 L80 524 L110 524.7 L110 525.6 L170 525.6 L170 543.9 L110 543.9 L110 539.3 L80 537 L54.6 532.5 L43 527 L38.5 521 L33.8 513 L30 505 L23.6 492 Z" fill="#f6a8ac" opacity="0.85"/>
<path d="M23.6 483.5 L24.4 488.4 L30 497 L33.8 504.5 L39 507.4 L43.1 509.7 L50 511.5 L58 513.8 L63.8 514.9 L70.8 515.5 L80 515.8 L91 516.2 L91.2 518.4 L163.3 518.4" fill="none" stroke="#2e96d2" stroke-width="1.35" stroke-linejoin="round"/>
<path d="M23.6 483.5 L24.4 488.4 L30 497 L33.8 504.5 L35 506.8 L38.5 512.6 L40.8 518.4 L44.2 521.8 L48.8 524.7 L54.6 526.5 L60.4 527.6 L66.2 528.8 L73.1 530 L80 531.1 L110 532 L110.2 535.1 L169.6 535.1" fill="none" stroke="#d42228" stroke-width="1.35" stroke-linejoin="round"/>
<line x1="94" y1="517.4" x2="94" y2="519.4" stroke="#2e96d2" stroke-width="0.5" />
<line x1="97" y1="517.4" x2="97" y2="519.4" stroke="#2e96d2" stroke-width="0.5" />
<line x1="100" y1="517.4" x2="100" y2="519.4" stroke="#2e96d2" stroke-width="0.5" />
<line x1="103" y1="517.4" x2="103" y2="519.4" stroke="#2e96d2" stroke-width="0.5" />
<line x1="106" y1="517.4" x2="106" y2="519.4" stroke="#2e96d2" stroke-width="0.5" />
<line x1="109" y1="517.4" x2="109" y2="519.4" stroke="#2e96d2" stroke-width="0.5" />
<line x1="112" y1="517.4" x2="112" y2="519.4" stroke="#2e96d2" stroke-width="0.5" />
<line x1="115" y1="517.4" x2="115" y2="519.4" stroke="#2e96d2" stroke-width="0.5" />
<line x1="118" y1="517.4" x2="118" y2="519.4" stroke="#2e96d2" stroke-width="0.5" />
<line x1="121" y1="517.4" x2="121" y2="519.4" stroke="#2e96d2" stroke-width="0.5" />
<line x1="124" y1="517.4" x2="124" y2="519.4" stroke="#2e96d2" stroke-width="0.5" />
<line x1="127" y1="517.4" x2="127" y2="519.4" stroke="#2e96d2" stroke-width="0.5" />
<line x1="130" y1="517.4" x2="130" y2="519.4" stroke="#2e96d2" stroke-width="0.5" />
<line x1="133" y1="517.4" x2="133" y2="519.4" stroke="#2e96d2" stroke-width="0.5" />
<line x1="136" y1="517.4" x2="136" y2="519.4" stroke="#2e96d2" stroke-width="0.5" />
<line x1="139" y1="517.4" x2="139" y2="519.4" stroke="#2e96d2" stroke-width="0.5" />
<line x1="142" y1="517.4" x2="142" y2="519.4" stroke="#2e96d2" stroke-width="0.5" />
<line x1="145" y1="517.4" x2="145" y2="519.4" stroke="#2e96d2" stroke-width="0.5" />
<line x1="148" y1="517.4" x2="148" y2="519.4" stroke="#2e96d2" stroke-width="0.5" />
<line x1="151" y1="517.4" x2="151" y2="519.4" stroke="#2e96d2" stroke-width="0.5" />
<line x1="154" y1="517.4" x2="154" y2="519.4" stroke="#2e96d2" stroke-width="0.5" />
<line x1="157" y1="517.4" x2="157" y2="519.4" stroke="#2e96d2" stroke-width="0.5" />
<line x1="160" y1="517.4" x2="160" y2="519.4" stroke="#2e96d2" stroke-width="0.5" />
<line x1="163" y1="517.4" x2="163" y2="519.4" stroke="#2e96d2" stroke-width="0.5" />
<line x1="62" y1="530.5" x2="62" y2="532.5" stroke="#d42228" stroke-width="0.5" />
<line x1="65" y1="530.5" x2="65" y2="532.5" stroke="#d42228" stroke-width="0.5" />
<line x1="68" y1="530.5" x2="68" y2="532.5" stroke="#d42228" stroke-width="0.5" />
<line x1="71" y1="530.5" x2="71" y2="532.5" stroke="#d42228" stroke-width="0.5" />
<line x1="74" y1="530.5" x2="74" y2="532.5" stroke="#d42228" stroke-width="0.5" />
<line x1="77" y1="530.5" x2="77" y2="532.5" stroke="#d42228" stroke-width="0.5" />
<line x1="80" y1="530.5" x2="80" y2="532.5" stroke="#d42228" stroke-width="0.5" />
<line x1="83" y1="530.5" x2="83" y2="532.5" stroke="#d42228" stroke-width="0.5" />
<line x1="86" y1="530.5" x2="86" y2="532.5" stroke="#d42228" stroke-width="0.5" />
<line x1="89" y1="530.5" x2="89" y2="532.5" stroke="#d42228" stroke-width="0.5" />
<line x1="92" y1="530.5" x2="92" y2="532.5" stroke="#d42228" stroke-width="0.5" />
<line x1="95" y1="530.5" x2="95" y2="532.5" stroke="#d42228" stroke-width="0.5" />
<line x1="98" y1="530.5" x2="98" y2="532.5" stroke="#d42228" stroke-width="0.5" />
<line x1="101" y1="530.5" x2="101" y2="532.5" stroke="#d42228" stroke-width="0.5" />
<line x1="104" y1="530.5" x2="104" y2="532.5" stroke="#d42228" stroke-width="0.5" />
<line x1="107" y1="530.5" x2="107" y2="532.5" stroke="#d42228" stroke-width="0.5" />
<line x1="110" y1="534.1" x2="110" y2="536.1" stroke="#d42228" stroke-width="0.5" />
<line x1="113" y1="534.1" x2="113" y2="536.1" stroke="#d42228" stroke-width="0.5" />
<line x1="116" y1="534.1" x2="116" y2="536.1" stroke="#d42228" stroke-width="0.5" />
<line x1="119" y1="534.1" x2="119" y2="536.1" stroke="#d42228" stroke-width="0.5" />
<line x1="122" y1="534.1" x2="122" y2="536.1" stroke="#d42228" stroke-width="0.5" />
<line x1="125" y1="534.1" x2="125" y2="536.1" stroke="#d42228" stroke-width="0.5" />
<line x1="128" y1="534.1" x2="128" y2="536.1" stroke="#d42228" stroke-width="0.5" />
<line x1="131" y1="534.1" x2="131" y2="536.1" stroke="#d42228" stroke-width="0.5" />
<line x1="134" y1="534.1" x2="134" y2="536.1" stroke="#d42228" stroke-width="0.5" />
<line x1="137" y1="534.1" x2="137" y2="536.1" stroke="#d42228" stroke-width="0.5" />
<line x1="140" y1="534.1" x2="140" y2="536.1" stroke="#d42228" stroke-width="0.5" />
<line x1="143" y1="534.1" x2="143" y2="536.1" stroke="#d42228" stroke-width="0.5" />
<line x1="146" y1="534.1" x2="146" y2="536.1" stroke="#d42228" stroke-width="0.5" />
<line x1="149" y1="534.1" x2="149" y2="536.1" stroke="#d42228" stroke-width="0.5" />
<line x1="152" y1="534.1" x2="152" y2="536.1" stroke="#d42228" stroke-width="0.5" />
<line x1="155" y1="534.1" x2="155" y2="536.1" stroke="#d42228" stroke-width="0.5" />
<line x1="158" y1="534.1" x2="158" y2="536.1" stroke="#d42228" stroke-width="0.5" />
<line x1="161" y1="534.1" x2="161" y2="536.1" stroke="#d42228" stroke-width="0.5" />
<line x1="164" y1="534.1" x2="164" y2="536.1" stroke="#d42228" stroke-width="0.5" />
<line x1="167" y1="534.1" x2="167" y2="536.1" stroke="#d42228" stroke-width="0.5" />
<text x="200.3" y="445" font-size="14.5" text-anchor="start" font-weight="bold" font-style="normal" fill="#000" >F</text>
<line x1="225.2" y1="468.5" x2="225.2" y2="600.6" stroke="#1e1e1e" stroke-width="1" />
<line x1="224.8" y1="600.3" x2="307.5" y2="600.3" stroke="#1e1e1e" stroke-width="1" />
<line x1="223" y1="600.2" x2="225.2" y2="600.2" stroke="#1e1e1e" stroke-width="1" />
<text x="222.2" y="602.6" font-size="6.8" text-anchor="end" font-weight="normal" font-style="normal" fill="#1e1e1e" stroke="#1e1e1e" stroke-width="0.204" >0</text>
<line x1="223" y1="556.3" x2="225.2" y2="556.3" stroke="#1e1e1e" stroke-width="1" />
<text x="222.2" y="558.7" font-size="6.8" text-anchor="end" font-weight="normal" font-style="normal" fill="#1e1e1e" stroke="#1e1e1e" stroke-width="0.204" >20</text>
<line x1="223" y1="512.4" x2="225.2" y2="512.4" stroke="#1e1e1e" stroke-width="1" />
<text x="222.2" y="514.8" font-size="6.8" text-anchor="end" font-weight="normal" font-style="normal" fill="#1e1e1e" stroke="#1e1e1e" stroke-width="0.204" >40</text>
<line x1="223" y1="468.5" x2="225.2" y2="468.5" stroke="#1e1e1e" stroke-width="1" />
<text x="222.2" y="470.9" font-size="6.8" text-anchor="end" font-weight="normal" font-style="normal" fill="#1e1e1e" stroke="#1e1e1e" stroke-width="0.204" >60</text>
<text x="0" y="0" font-size="6.85" text-anchor="middle" font-weight="normal" font-style="normal" fill="#1e1e1e" stroke="#1e1e1e" stroke-width="0.205" transform="translate(208.2 532.6) rotate(-90)">Sphere-forming capacity (%)</text>
<rect x="231.6" y="531.2" width="27.6" height="69.1" fill="#fff" stroke="#1e1e1e" stroke-width="1" />
<line x1="245.3" y1="515" x2="245.3" y2="531.2" stroke="#1e1e1e" stroke-width="1" />
<line x1="238" y1="515" x2="252.5" y2="515" stroke="#1e1e1e" stroke-width="1" />
<rect x="272.7" y="497" width="26.9" height="103.3" fill="url(#hlines)" stroke="#1e1e1e" stroke-width="1" />
<line x1="286.2" y1="478.8" x2="286.2" y2="497" stroke="#1e1e1e" stroke-width="1" />
<line x1="280.4" y1="478.8" x2="292" y2="478.8" stroke="#1e1e1e" stroke-width="1" />
<line x1="251.1" y1="473.5" x2="282.2" y2="473.5" stroke="#1e1e1e" stroke-width="1" />
<circle cx="266.1" cy="468.2" r="1.3" fill="#111"/>
<circle cx="270.1" cy="468.2" r="1.3" fill="#111"/>
<line x1="245.3" y1="600.3" x2="245.3" y2="602" stroke="#1e1e1e" stroke-width="1" />
<line x1="286.2" y1="600.3" x2="286.2" y2="602" stroke="#1e1e1e" stroke-width="1" />
<text x="245.6" y="611.2" font-size="6.5" text-anchor="middle" font-weight="normal" font-style="normal" fill="#1e1e1e" stroke="#1e1e1e" stroke-width="0.195" >-</text>
<text x="286.2" y="611.9" font-size="6.5" text-anchor="middle" font-weight="normal" font-style="normal" fill="#1e1e1e" stroke="#1e1e1e" stroke-width="0.195" >+</text>
<text x="298.8" y="611.6" font-size="5.9" text-anchor="start" font-weight="normal" font-style="normal" fill="#1e1e1e" stroke="#1e1e1e" stroke-width="0.177" >TGF-β1</text>
<text x="0" y="0" font-size="7" text-anchor="start" font-weight="normal" font-style="normal" fill="#1e1e1e" stroke="#1e1e1e" stroke-width="0.21" transform="translate(326.6 552.4) rotate(-90)">SW480 SC UT</text>
<text x="0" y="0" font-size="6.8" text-anchor="start" font-weight="normal" font-style="normal" fill="#1e1e1e" stroke="#1e1e1e" stroke-width="0.204" transform="translate(348.3 552.4) rotate(-90)">SW480 SC + TGF-β1</text>
<rect x="313.8" y="558" width="43.7" height="42" fill="#efefef" stroke="#111" stroke-width="1.1" />
<g filter="url(#bl1)">
<rect x="316" y="570" width="40" height="14" fill="#e2e2e2"/>
<rect x="316" y="586" width="40" height="12" fill="#dedede"/>
<rect x="336.8" y="562.8" width="17.4" height="3.8" rx="1.5" fill="#000"/>
<rect x="318.2" y="577.2" width="16" height="4.2" rx="1.5" fill="#000"/>
<rect x="335.8" y="577.4" width="18.4" height="3.8" rx="1.5" fill="#080808"/>
<rect x="315.8" y="591.4" width="18.8" height="4.8" rx="1.8" fill="#0c0c0c"/>
<rect x="335.3" y="591.4" width="19" height="4.8" rx="1.8" fill="#101010"/>
</g>
<text x="362.6" y="567.7" font-size="7.4" text-anchor="start" font-weight="normal" font-style="normal" fill="#1e1e1e" stroke="#1e1e1e" stroke-width="0.222" >pSMAD2</text>
<text x="362.6" y="582.3" font-size="7.4" text-anchor="start" font-weight="normal" font-style="normal" fill="#1e1e1e" stroke="#1e1e1e" stroke-width="0.222" >SMAD2</text>
<text x="362.6" y="596.9" font-size="7.4" text-anchor="start" font-weight="normal" font-style="normal" fill="#1e1e1e" stroke="#1e1e1e" stroke-width="0.222" >β-Actin</text>
<text x="410.3" y="446" font-size="14.5" text-anchor="start" font-weight="bold" font-style="normal" fill="#000" >G</text>
<line x1="436.9" y1="469" x2="436.9" y2="600.6" stroke="#1e1e1e" stroke-width="1" />
<line x1="436.5" y1="600.3" x2="515.8" y2="600.3" stroke="#1e1e1e" stroke-width="1" />
<line x1="434.8" y1="600.2" x2="436.9" y2="600.2" stroke="#1e1e1e" stroke-width="1" />
<text x="433.8" y="602.5" font-size="6.6" text-anchor="end" font-weight="normal" font-style="normal" fill="#1e1e1e" stroke="#1e1e1e" stroke-width="0.198" >0</text>
<line x1="434.8" y1="567.6" x2="436.9" y2="567.6" stroke="#1e1e1e" stroke-width="1" />
<text x="433.8" y="569.9" font-size="6.6" text-anchor="end" font-weight="normal" font-style="normal" fill="#1e1e1e" stroke="#1e1e1e" stroke-width="0.198" >20</text>
<line x1="434.8" y1="535.0" x2="436.9" y2="535.0" stroke="#1e1e1e" stroke-width="1" />
<text x="433.8" y="537.3" font-size="6.6" text-anchor="end" font-weight="normal" font-style="normal" fill="#1e1e1e" stroke="#1e1e1e" stroke-width="0.198" >40</text>
<line x1="434.8" y1="502.4" x2="436.9" y2="502.4" stroke="#1e1e1e" stroke-width="1" />
<text x="433.8" y="504.7" font-size="6.6" text-anchor="end" font-weight="normal" font-style="normal" fill="#1e1e1e" stroke="#1e1e1e" stroke-width="0.198" >60</text>
<line x1="434.8" y1="469.8" x2="436.9" y2="469.8" stroke="#1e1e1e" stroke-width="1" />
<text x="433.8" y="472.1" font-size="6.6" text-anchor="end" font-weight="normal" font-style="normal" fill="#1e1e1e" stroke="#1e1e1e" stroke-width="0.198" >80</text>
<text x="0" y="0" font-size="6.85" text-anchor="middle" font-weight="normal" font-style="normal" fill="#1e1e1e" stroke="#1e1e1e" stroke-width="0.205" transform="translate(421.3 533.2) rotate(-90)">Sphere-forming capacity (%)</text>
<rect x="443.7" y="508.3" width="27.5" height="92" fill="#898989" stroke="#1e1e1e" stroke-width="1" />
<line x1="457.4" y1="489" x2="457.4" y2="508.3" stroke="#1e1e1e" stroke-width="1" />
<line x1="450.4" y1="489" x2="464.4" y2="489" stroke="#1e1e1e" stroke-width="1" />
<rect x="484.7" y="535.3" width="27.3" height="65" fill="#000" stroke="#000" stroke-width="1" />
<line x1="498.4" y1="517.1" x2="498.4" y2="535.3" stroke="#1e1e1e" stroke-width="1" />
<line x1="491.2" y1="517.1" x2="506" y2="517.1" stroke="#1e1e1e" stroke-width="1" />
<line x1="465" y1="483.6" x2="491.5" y2="483.6" stroke="#1e1e1e" stroke-width="1" />
<circle cx="479.1" cy="478.1" r="1.4" fill="#111"/>
<line x1="457.4" y1="600.3" x2="457.4" y2="602" stroke="#1e1e1e" stroke-width="1" />
<line x1="498.4" y1="600.3" x2="498.4" y2="602" stroke="#1e1e1e" stroke-width="1" />
<text x="440" y="613.1" font-size="7" text-anchor="start" font-weight="normal" font-style="normal" fill="#1e1e1e" stroke="#1e1e1e" stroke-width="0.21" >Ctrl</text>
<text x="474.3" y="613.1" font-size="7" text-anchor="start" font-weight="normal" font-style="normal" fill="#1e1e1e" stroke="#1e1e1e" stroke-width="0.21" >sh <tspan font-style="italic">TGFBR2</tspan></text>
</svg>
</body></html>
